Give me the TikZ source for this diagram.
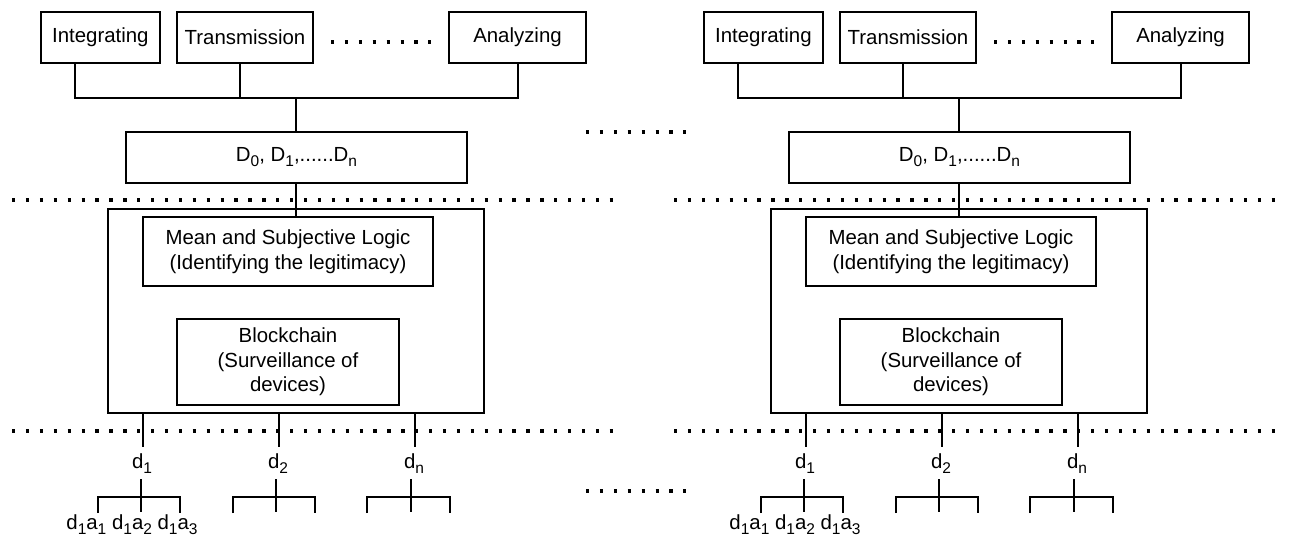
\documentclass[tikz,border=0pt]{standalone}
\usepackage{fontspec}
\setmainfont{Liberation Sans}
\newcommand{\sbs}[1]{\raisebox{-5pt}{\fontsize{15.5}{15.5}\selectfont #1}}
\begin{document}
\begin{tikzpicture}[x=1pt,y=-1pt,
  box/.style={draw, line width=1.8pt, inner sep=0pt, align=center, font=\fontsize{20.4}{24.6}\selectfont},
  lbl/.style={inner sep=0pt, font=\fontsize{20.4}{24.6}\selectfont},
  ln/.style={line width=1.8pt},
  tree/.style={line width=2pt},
  dots/.style={line width=3.3pt, dash pattern=on 3.3pt off 10.6pt}]
\useasboundingbox (0,0) rectangle (1290,535);

% separators
\draw[dots] (12,200) -- (615,200);
\draw[dots] (674,200) -- (1283,200);
\draw[dots] (12,431) -- (615,431);
\draw[dots] (674,431) -- (1283,431);
\draw[dots] (586,132) -- (686,132);
\draw[dots] (586,491) -- (686,491);

\foreach \s/\dx in {L/0, R/663} {
\begin{scope}[xshift=\dx]
  \draw[dots] (331,42) -- (431,42);
  \node[box, minimum width=119pt, minimum height=51pt] (int\s) at (100.4,37.5) {Integrating};
  \node[box, minimum width=136pt, minimum height=51pt] (tra\s) at (245,37.5) {Transmission};
  \node[box, minimum width=137pt, minimum height=51pt] (ana\s) at (517.5,37.5) {Analyzing};
  \node[box, minimum width=341pt, minimum height=51pt] (D\s) at (296.5,157.5) {D\sbs{0}, D\sbs{1},......D\sbs{n}};
  \node[box, minimum width=376pt, minimum height=204pt] (big\s) at (296,311) {};
  \node[box, minimum width=290pt, minimum height=69pt] (mean\s) at (288,251.5) {Mean and Subjective Logic\\(Identifying the legitimacy)};
  \node[box, minimum width=222pt, minimum height=86pt] (blk\s) at (288,362) {Blockchain\\(Surveillance of\\devices)};

  \coordinate (busL\s) at (75,98);
  \coordinate (busT\s) at (240,98);
  \coordinate (busM\s) at (296,98);
  \coordinate (busR\s) at (518,98);
  \draw[ln] (int\s.south -| busL\s) -- (busL\s) -- (busR\s) -- (ana\s.south -| busR\s);
  \draw[ln] (tra\s.south -| busT\s) -- (busT\s);
  \draw[ln] (busM\s) -- (D\s.north -| busM\s);
  \draw[ln] (D\s.south -| busM\s) -- (mean\s.north -| busM\s);

  % devices
  \node[lbl, anchor=base] (d1\s) at (142,468) {d\sbs{1}};
  \node[lbl, anchor=base] (d2\s) at (278,468) {d\sbs{2}};
  \node[lbl, anchor=base] (dn\s) at (414,468) {d\sbs{n}};
  \coordinate (e1\s) at (143,447);
  \coordinate (e2\s) at (279,447);
  \coordinate (e3\s) at (415,447);
  \draw[ln] (big\s.south -| e1\s) -- (e1\s);
  \draw[ln] (big\s.south -| e2\s) -- (e2\s);
  \draw[ln] (big\s.south -| e3\s) -- (e3\s);

  % sub-trees
  \foreach \c/\a/\b in {141/98/180, 276/233/315, 411/367/450} {
    \draw[tree] (\c,479) -- (\c,512);
    \draw[tree] (\a,513) -- (\a,497) -- (\b,497) -- (\b,513);
  }
  \node[lbl, anchor=base] (leaf\s) at (132,529) {d\sbs{1}a\sbs{1} d\sbs{1}a\sbs{2} d\sbs{1}a\sbs{3}};
\end{scope}
}
\end{tikzpicture}
\end{document}
